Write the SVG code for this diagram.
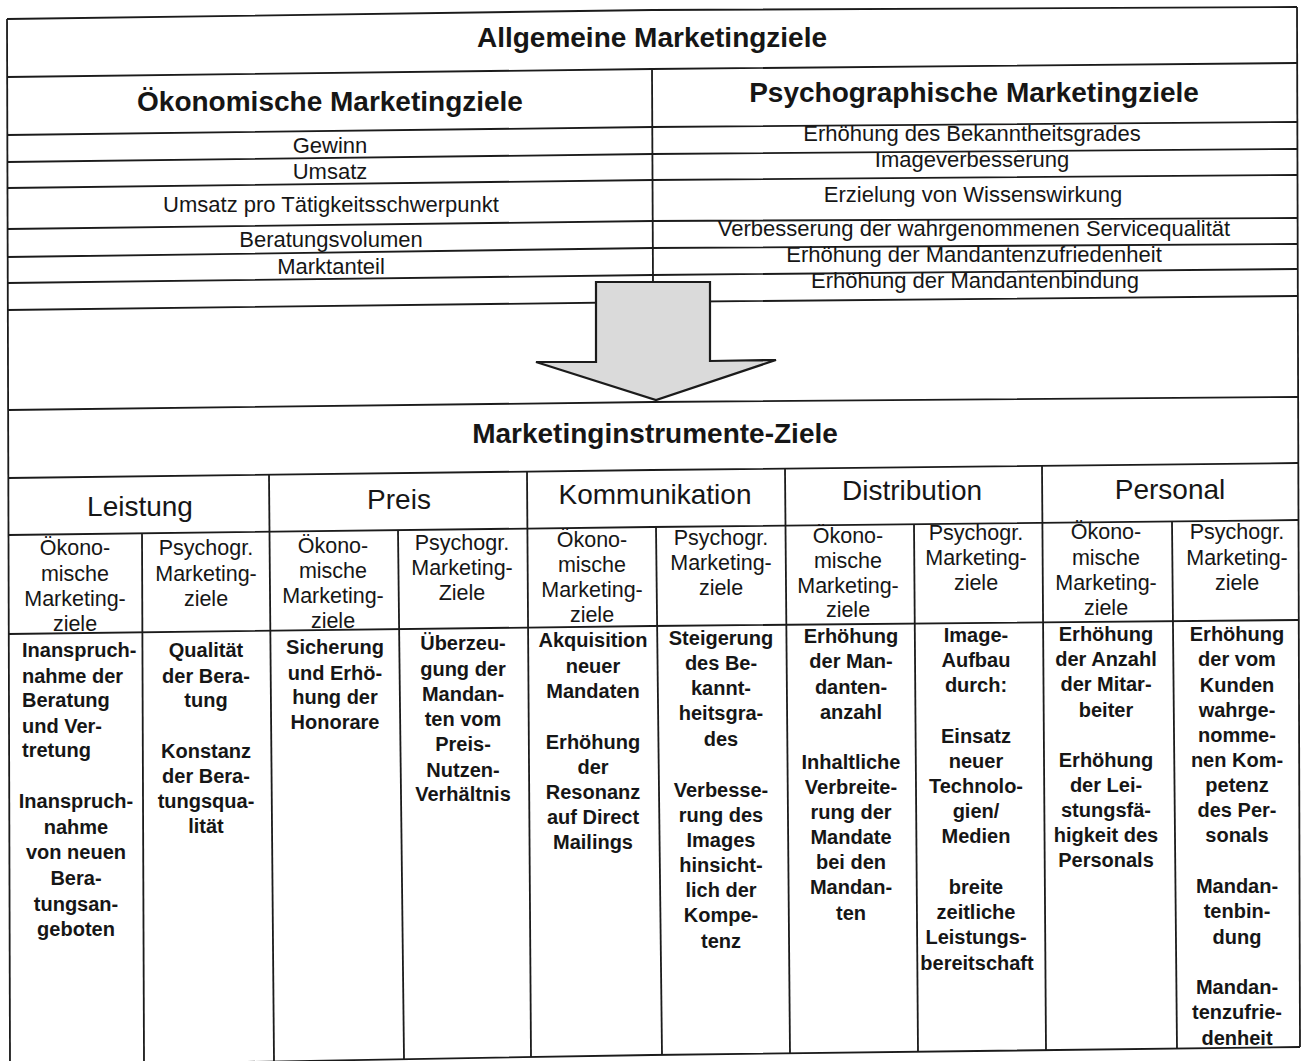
<svg xmlns="http://www.w3.org/2000/svg" width="1302" height="1061" viewBox="0 0 1302 1061">
  <style>
    .ln { fill: none; stroke: #1b1b1b; stroke-width: 1.8; stroke-linejoin: round; }
    text { fill: #161616; font-family: "Liberation Sans", Arial, sans-serif; text-anchor: middle; }
    .h1 { font-size: 28px; font-weight: bold; }
    .row { font-size: 22px; }
    .cat { font-size: 28px; }
    .sub { font-size: 21.5px; }
    .body { font-size: 20px; font-weight: bold; }
    .arrow { fill: #dadada; stroke: #1b1b1b; stroke-width: 2.2; stroke-linejoin: miter; }
  </style>
  <rect width="1302" height="1061" fill="#ffffff"/>

  <!-- table grid -->
  <g id="grid">
    <!-- outer border -->
    <polyline class="ln" points="7,19 652,10 1297,7"/>
    <line class="ln" x1="7" y1="19" x2="10" y2="1061"/>
    <line class="ln" x1="1297" y1="7" x2="1300" y2="1047"/>
    <polyline class="ln" points="7,1066 652,1055 1300,1047"/>
    <!-- upper rows -->
    <polyline class="ln" points="7,77 652,69 1297,63"/>
    <polyline class="ln" points="7,135 652,127 1297,122"/>
    <polyline class="ln" points="7,162 652,154 1297,149"/>
    <polyline class="ln" points="7,188 652,180 1297,175"/>
    <polyline class="ln" points="7,229 652,221 1297,218"/>
    <polyline class="ln" points="7,257 652,248 1297,244"/>
    <polyline class="ln" points="7,283 652,275 1297,269"/>
    <polyline class="ln" points="7,310 652,302 1297,296"/>
    <line class="ln" x1="652" y1="69" x2="653" y2="282"/>
    <!-- lower rows -->
    <polyline class="ln" points="8,410 652,402 1298,397"/>
    <polyline class="ln" points="8,478 652,470 1298,463"/>
    <polyline class="ln" points="8,535 652,527 1298,520"/>
    <polyline class="ln" points="8,634 652,626 1298,620"/>
    <!-- instrument columns -->
    <line class="ln" x1="269" y1="474.7" x2="274" y2="1061"/>
    <line class="ln" x1="527" y1="471.6" x2="531" y2="1057"/>
    <line class="ln" x1="785" y1="468.6" x2="790" y2="1054"/>
    <line class="ln" x1="1042" y1="465.6" x2="1046" y2="1051"/>
    <!-- sub columns -->
    <line class="ln" x1="142" y1="533.3" x2="144" y2="1061"/>
    <line class="ln" x1="398" y1="530.2" x2="404" y2="1059"/>
    <line class="ln" x1="656" y1="527" x2="662" y2="1055"/>
    <line class="ln" x1="914" y1="524.2" x2="918" y2="1052"/>
    <line class="ln" x1="1172" y1="521.4" x2="1177" y2="1049"/>
  </g>

  <!-- block arrow between the two levels -->
  <g id="connectors">
    <polygon class="arrow" points="596,282 710,282 710,361 776,360 656,400 536,362 596,362"/>
  </g>

  <g id="title">
    <text class="h1" x="652" y="47">Allgemeine Marketingziele</text>
  </g>

  <g id="oekonomisch">
    <text class="h1" x="330" y="111">Ökonomische Marketingziele</text>
    <text class="row" x="330" y="153">Gewinn</text>
    <text class="row" x="330" y="179">Umsatz</text>
    <text class="row" x="331" y="212">Umsatz pro Tätigkeitsschwerpunkt</text>
    <text class="row" x="331" y="247">Beratungsvolumen</text>
    <text class="row" x="331" y="274">Marktanteil</text>
  </g>

  <g id="psychographisch">
    <text class="h1" x="974" y="102">Psychographische Marketingziele</text>
    <text class="row" x="972" y="141">Erhöhung des Bekanntheitsgrades</text>
    <text class="row" x="972" y="167">Imageverbesserung</text>
    <text class="row" x="973" y="202">Erzielung von Wissenswirkung</text>
    <text class="row" x="974" y="236">Verbesserung der wahrgenommenen Servicequalität</text>
    <text class="row" x="974" y="262">Erhöhung der Mandantenzufriedenheit</text>
    <text class="row" x="975" y="288">Erhöhung der Mandantenbindung</text>
  </g>

  <g id="instrumente">
    <text class="h1" x="655" y="443">Marketinginstrumente-Ziele</text>
  </g>

  <g id="leistung">
    <text class="cat" x="140" y="516">Leistung</text>
    <text class="sub" x="75"><tspan x="75" y="555">Ökono-</tspan><tspan x="75" y="581">mische</tspan><tspan x="75" y="606">Marketing-</tspan><tspan x="75" y="631">ziele</tspan></text>
    <text class="sub" x="206"><tspan x="206" y="555">Psychogr.</tspan><tspan x="206" y="581">Marketing-</tspan><tspan x="206" y="606">ziele</tspan></text>
    <text class="body" style="text-anchor:start"><tspan x="22" y="657">Inanspruch-</tspan><tspan x="22" y="683">nahme der</tspan><tspan x="22" y="707">Beratung</tspan><tspan x="22" y="733">und Ver-</tspan><tspan x="22" y="757">tretung</tspan></text>
    <text class="body"><tspan x="76" y="808">Inanspruch-</tspan><tspan x="76" y="834">nahme</tspan><tspan x="76" y="859">von neuen</tspan><tspan x="76" y="885">Bera-</tspan><tspan x="76" y="911">tungsan-</tspan><tspan x="76" y="936">geboten</tspan></text>
    <text class="body"><tspan x="206" y="657">Qualität</tspan><tspan x="206" y="683">der Bera-</tspan><tspan x="206" y="707">tung</tspan><tspan x="206" y="758">Konstanz</tspan><tspan x="206" y="783">der Bera-</tspan><tspan x="206" y="808">tungsqua-</tspan><tspan x="206" y="833">lität</tspan></text>
  </g>

  <g id="preis">
    <text class="cat" x="399" y="509">Preis</text>
    <text class="sub"><tspan x="333" y="553">Ökono-</tspan><tspan x="333" y="578">mische</tspan><tspan x="333" y="603">Marketing-</tspan><tspan x="333" y="628">ziele</tspan></text>
    <text class="sub"><tspan x="462" y="550">Psychogr.</tspan><tspan x="462" y="575">Marketing-</tspan><tspan x="462" y="600">Ziele</tspan></text>
    <text class="body"><tspan x="335" y="654">Sicherung</tspan><tspan x="335" y="680">und Erhö-</tspan><tspan x="335" y="704">hung der</tspan><tspan x="335" y="729">Honorare</tspan></text>
    <text class="body"><tspan x="463" y="650">Überzeu-</tspan><tspan x="463" y="676">gung der</tspan><tspan x="463" y="701">Mandan-</tspan><tspan x="463" y="726">ten vom</tspan><tspan x="463" y="751">Preis-</tspan><tspan x="463" y="777">Nutzen-</tspan><tspan x="463" y="801">Verhältnis</tspan></text>
  </g>

  <g id="kommunikation">
    <text class="cat" x="655" y="504">Kommunikation</text>
    <text class="sub"><tspan x="592" y="547">Ökono-</tspan><tspan x="592" y="572">mische</tspan><tspan x="592" y="597">Marketing-</tspan><tspan x="592" y="622">ziele</tspan></text>
    <text class="sub"><tspan x="721" y="545">Psychogr.</tspan><tspan x="721" y="570">Marketing-</tspan><tspan x="721" y="595">ziele</tspan></text>
    <text class="body"><tspan x="593" y="647">Akquisition</tspan><tspan x="593" y="673">neuer</tspan><tspan x="593" y="698">Mandaten</tspan><tspan x="593" y="749">Erhöhung</tspan><tspan x="593" y="774">der</tspan><tspan x="593" y="799">Resonanz</tspan><tspan x="593" y="824">auf Direct</tspan><tspan x="593" y="849">Mailings</tspan></text>
    <text class="body"><tspan x="721" y="645">Steigerung</tspan><tspan x="721" y="670">des Be-</tspan><tspan x="721" y="695">kannt-</tspan><tspan x="721" y="720">heitsgra-</tspan><tspan x="721" y="746">des</tspan><tspan x="721" y="797">Verbesse-</tspan><tspan x="721" y="822">rung des</tspan><tspan x="721" y="847">Images</tspan><tspan x="721" y="872">hinsicht-</tspan><tspan x="721" y="897">lich der</tspan><tspan x="721" y="922">Kompe-</tspan><tspan x="721" y="948">tenz</tspan></text>
  </g>

  <g id="distribution">
    <text class="cat" x="912" y="500">Distribution</text>
    <text class="sub"><tspan x="848" y="543">Ökono-</tspan><tspan x="848" y="568">mische</tspan><tspan x="848" y="593">Marketing-</tspan><tspan x="848" y="617">ziele</tspan></text>
    <text class="sub"><tspan x="976" y="540">Psychogr.</tspan><tspan x="976" y="565">Marketing-</tspan><tspan x="976" y="590">ziele</tspan></text>
    <text class="body"><tspan x="851" y="643">Erhöhung</tspan><tspan x="851" y="668">der Man-</tspan><tspan x="851" y="694">danten-</tspan><tspan x="851" y="719">anzahl</tspan><tspan x="851" y="769">Inhaltliche</tspan><tspan x="851" y="794">Verbreite-</tspan><tspan x="851" y="819">rung der</tspan><tspan x="851" y="844">Mandate</tspan><tspan x="851" y="869">bei den</tspan><tspan x="851" y="894">Mandan-</tspan><tspan x="851" y="920">ten</tspan></text>
    <text class="body"><tspan x="976" y="642">Image-</tspan><tspan x="976" y="667">Aufbau</tspan><tspan x="976" y="692">durch:</tspan><tspan x="976" y="743">Einsatz</tspan><tspan x="976" y="768">neuer</tspan><tspan x="976" y="793">Technolo-</tspan><tspan x="976" y="818">gien/</tspan><tspan x="976" y="843">Medien</tspan><tspan x="976" y="894">breite</tspan><tspan x="976" y="919">zeitliche</tspan><tspan x="976" y="944">Leistungs-</tspan><tspan x="977" y="970">bereitschaft</tspan></text>
  </g>

  <g id="personal">
    <text class="cat" x="1170" y="499">Personal</text>
    <text class="sub"><tspan x="1106" y="539">Ökono-</tspan><tspan x="1106" y="565">mische</tspan><tspan x="1106" y="590">Marketing-</tspan><tspan x="1106" y="615">ziele</tspan></text>
    <text class="sub"><tspan x="1237" y="539">Psychogr.</tspan><tspan x="1237" y="565">Marketing-</tspan><tspan x="1237" y="590">ziele</tspan></text>
    <text class="body"><tspan x="1106" y="641">Erhöhung</tspan><tspan x="1106" y="666">der Anzahl</tspan><tspan x="1106" y="691">der Mitar-</tspan><tspan x="1106" y="717">beiter</tspan><tspan x="1106" y="767">Erhöhung</tspan><tspan x="1106" y="792">der Lei-</tspan><tspan x="1106" y="817">stungsfä-</tspan><tspan x="1106" y="842">higkeit des</tspan><tspan x="1106" y="867">Personals</tspan></text>
    <text class="body"><tspan x="1237" y="641">Erhöhung</tspan><tspan x="1237" y="666">der vom</tspan><tspan x="1237" y="692">Kunden</tspan><tspan x="1237" y="717">wahrge-</tspan><tspan x="1237" y="742">nomme-</tspan><tspan x="1237" y="767">nen Kom-</tspan><tspan x="1237" y="792">petenz</tspan><tspan x="1237" y="817">des Per-</tspan><tspan x="1237" y="842">sonals</tspan><tspan x="1237" y="893">Mandan-</tspan><tspan x="1237" y="918">tenbin-</tspan><tspan x="1237" y="944">dung</tspan><tspan x="1237" y="994">Mandan-</tspan><tspan x="1237" y="1019">tenzufrie-</tspan><tspan x="1237" y="1045">denheit</tspan></text>
  </g>
</svg>
